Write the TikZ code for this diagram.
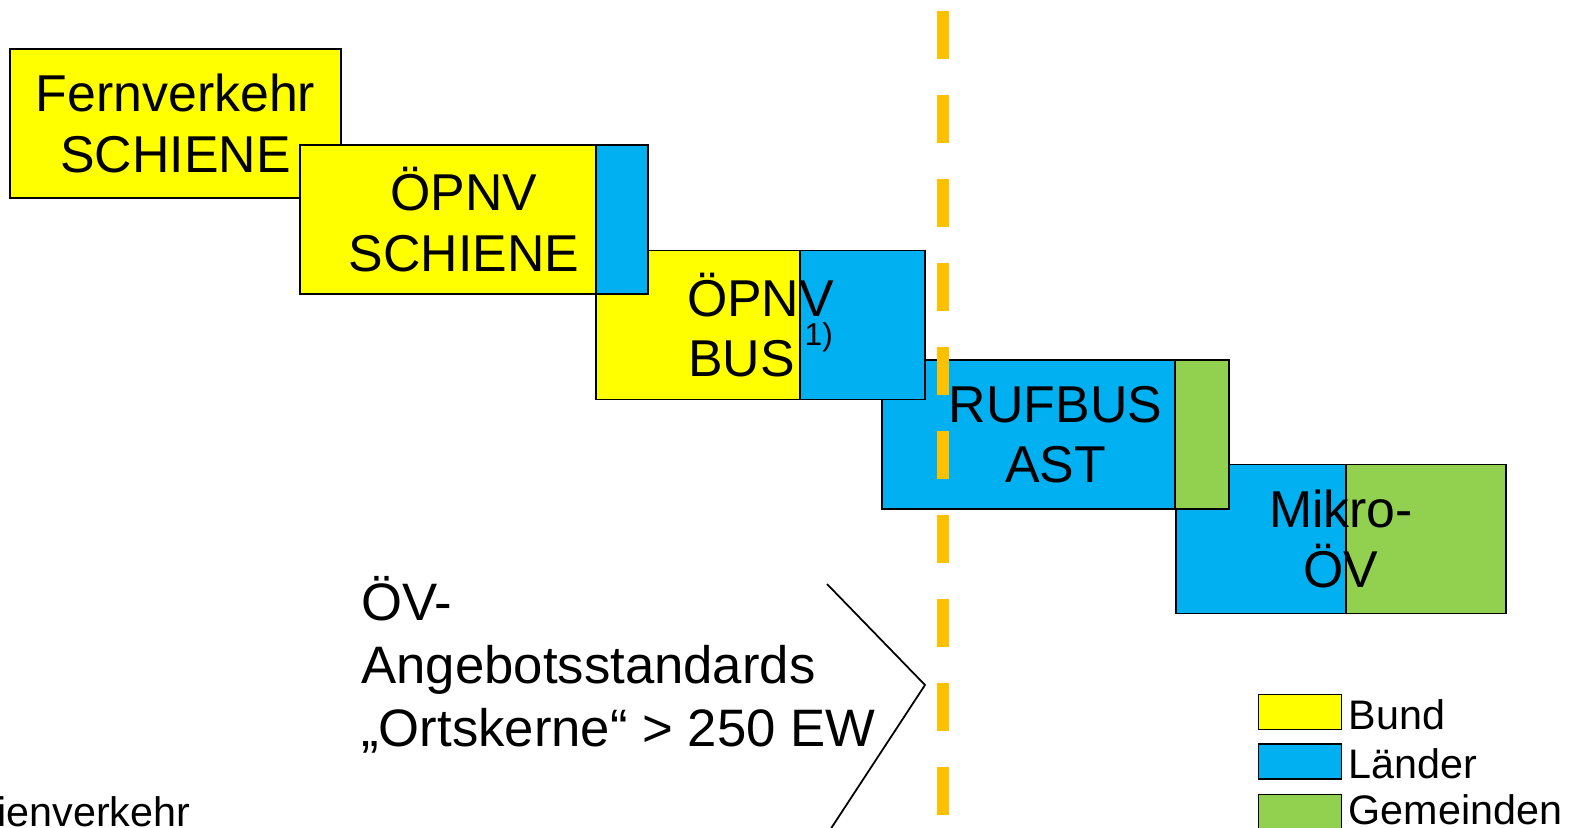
\documentclass[tikz,border=0pt]{standalone}
\usepackage{fontspec}
\setmainfont{Liberation Sans}
\usetikzlibrary{positioning,calc}

\definecolor{bund}{HTML}{FFFF00}
\definecolor{land}{HTML}{00B0F0}
\definecolor{gemeinde}{HTML}{92D050}
\definecolor{grenze}{HTML}{FFC000}

\begin{document}
\begin{tikzpicture}[
  x=0.02cm, y=-0.02cm,
  font=\fontsize{29.5}{34.5}\selectfont,
  box/.style={draw, line width=1.1pt, align=center, inner sep=0pt, minimum width=6.6cm, minimum height=2.98cm},
  split/.style 2 args={path picture={
      \fill[#1] ($(path picture bounding box.north east)+(-#2,0)$) rectangle (path picture bounding box.south east);
      \draw[line width=0.8pt] ($(path picture bounding box.north east)+(-#2,0)$) -- ($(path picture bounding box.south east)+(-#2,0)$);}},
  key/.style={draw, line width=0.8pt, minimum width=1.66cm, minimum height=0.7cm, inner sep=0pt},
  legend/.style={font=\fontsize{23.5}{27}\selectfont, inner sep=0pt, anchor=base west}
]
  \useasboundingbox (0,0) rectangle (1573,828);

  % Angebotsstufen
  \node[box, fill=land, split={gemeinde}{160}] (mikro) at (1341,539) {Mikro-\\ÖV};
  \node[box, fill=land, split={gemeinde}{54}, minimum width=6.94cm] (rufbus) at (1055.5,434.5) {RUFBUS\\AST};
  \node[box, fill=bund, split={land}{125}, minimum width=6.58cm] (bus) at (760.5,325) {ÖPNV\\BUS\kern0.2cm\raisebox{0.62cm}{\fontsize{18}{18}\selectfont 1)}};
  \node[box, fill=bund, minimum width=6.62cm] (fern) at (175.5,123.5) {Fernverkehr\\SCHIENE};
  \node[box, fill=bund, split={land}{52}, minimum width=6.96cm] (schiene) at (474,219.5) {ÖPNV\kern0.4cm\\SCHIENE\kern0.4cm};

  % Grenze
  \coordinate (grenzeoben) at (943,11);
  \coordinate (grenzeunten) at (943,815);
  \draw[grenze, line width=0.24cm, dash pattern=on 0.96cm off 0.72cm] (grenzeoben) -- (grenzeunten);

  \node[anchor=north west, align=left, inner sep=0pt, font=\fontsize{30}{36}\selectfont] (standards) at (361,576) {ÖV-\\Angebotsstandards\\„Ortskerne“ > 250 EW};
  \coordinate (klammeroben) at (827,584);
  \coordinate (klammerspitze) at (925,685);
  \coordinate (klammerunten) at (830,830);
  \draw[line width=1pt] (klammeroben) -- (klammerspitze) -- (klammerunten);

  \node[legend] (linie) at (-3,826) {ienverkehr};

  % Legende
  \node[key, fill=bund, anchor=north west] (bundkey) at (1258,694) {};
  \node[key, fill=land, below=0.26cm of bundkey] (landkey) {};
  \node[key, fill=gemeinde, below=0.28cm of landkey] (gemkey) {};
  \node[legend] (bundtext) at ($(bundkey.east)+(6,17)$) {Bund};
  \node[legend] (landtext) at ($(landkey.east)+(6,17)$) {Länder};
  \node[legend] (gemtext) at ($(gemkey.east)+(6,13)$) {Gemeinden};
\end{tikzpicture}
\end{document}
